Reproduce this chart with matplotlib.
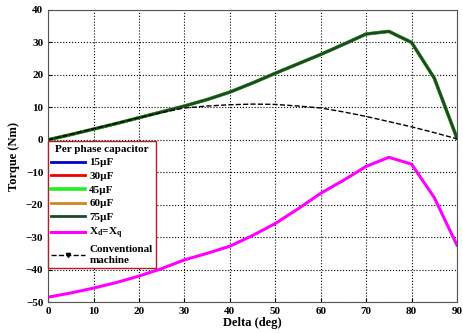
import numpy as np
import matplotlib.pyplot as plt
from matplotlib.lines import Line2D

plt.rcParams['font.family'] = ['Liberation Serif', 'DejaVu Serif']
plt.rcParams['font.weight'] = 'bold'
plt.rcParams['mathtext.fontset'] = 'custom'
plt.rcParams['mathtext.rm'] = 'Liberation Serif:bold'
plt.rcParams['mathtext.bf'] = 'Liberation Serif:bold'

# load angle (deg)
delta = [0, 5, 10, 15, 20, 25, 30, 35, 40, 45, 50, 55, 60, 65, 70, 75, 80, 85, 90]
# torque with per phase capacitor (all capacitor values nearly coincide)
t_cap = [0, 1.6, 3.3, 5.0, 6.8, 8.6, 10.4, 12.4, 14.7, 17.5, 20.5, 23.4, 26.3, 29.4, 32.6, 33.4, 30.0, 19.0, 0.5]
# conventional machine
t_conv = [0, 1.7, 3.4, 5.1, 6.8, 8.4, 9.8, 10.4, 10.8, 11.0, 10.9, 10.4, 9.8, 8.6, 7.2, 5.6, 4.0, 2.2, 0.3]
# Xd = Xq case
t_xdxq = [-48.5, -47.2, -45.7, -44.0, -42.0, -39.7, -37.0, -35.0, -32.8, -29.5, -25.8, -21.3, -16.5, -12.5, -8.2, -5.4, -7.5, -17.8, -32.5]

cap_labels = ['15µF', '30µF', '45µF', '60µF', '75µF']
cap_colors = ['#0000cc', '#ee0000', '#22ee22', '#cc8822', '#1a4a2a']

fig = plt.figure(figsize=(4.63, 3.33), dpi=100)
ax = fig.add_axes([0.104, 0.093, 0.883, 0.877])

handles = []
for lab, col in zip(cap_labels, cap_colors):
    lw = 2.6 if col == '#22ee22' else 2.0
    ln, = ax.plot(delta, t_cap, color=col, lw=lw, label=lab)
    handles.append(ln)
ln, = ax.plot(delta, t_xdxq, color='#ff00ff', lw=2.2, label=r'X$_{\mathrm{d}}$=X$_{\mathrm{q}}$')
handles.append(ln)
ax.plot(delta, t_conv, color='k', ls='--', lw=1.0)
handles.append(Line2D([], [], color='k', ls='--', lw=1.0, marker='v', markersize=3,
                      label='Conventional\nmachine'))

ax.set_xlim(0, 90)
ax.set_ylim(-50, 40)
ax.set_xticks(range(0, 91, 10))
ax.set_yticks(range(-50, 41, 10))
ax.tick_params(direction='in', labelsize=8, length=3)
ax.grid(True, ls=':', color='k', lw=0.8)
ax.set_xlabel('Delta (deg)', fontsize=9, fontweight='bold', labelpad=1)
ax.set_ylabel('Torque (Nm)', fontsize=9, fontweight='bold', labelpad=4)
for s in ax.spines.values():
    s.set_color('#555555')

leg = ax.legend(handles=handles, loc='upper left', bbox_to_anchor=(0.0, 1.0 - 40.5 / 90),
                title='Per phase capacitor', fontsize=8, title_fontsize=8,
                handlelength=3.0, handletextpad=0.4, labelspacing=0.35,
                borderpad=0.3, fancybox=False, framealpha=1, borderaxespad=0.0)
leg.get_frame().set_edgecolor('#aa2222')
leg.get_title().set_fontweight('bold')

fig.savefig('out.png', dpi=100)
